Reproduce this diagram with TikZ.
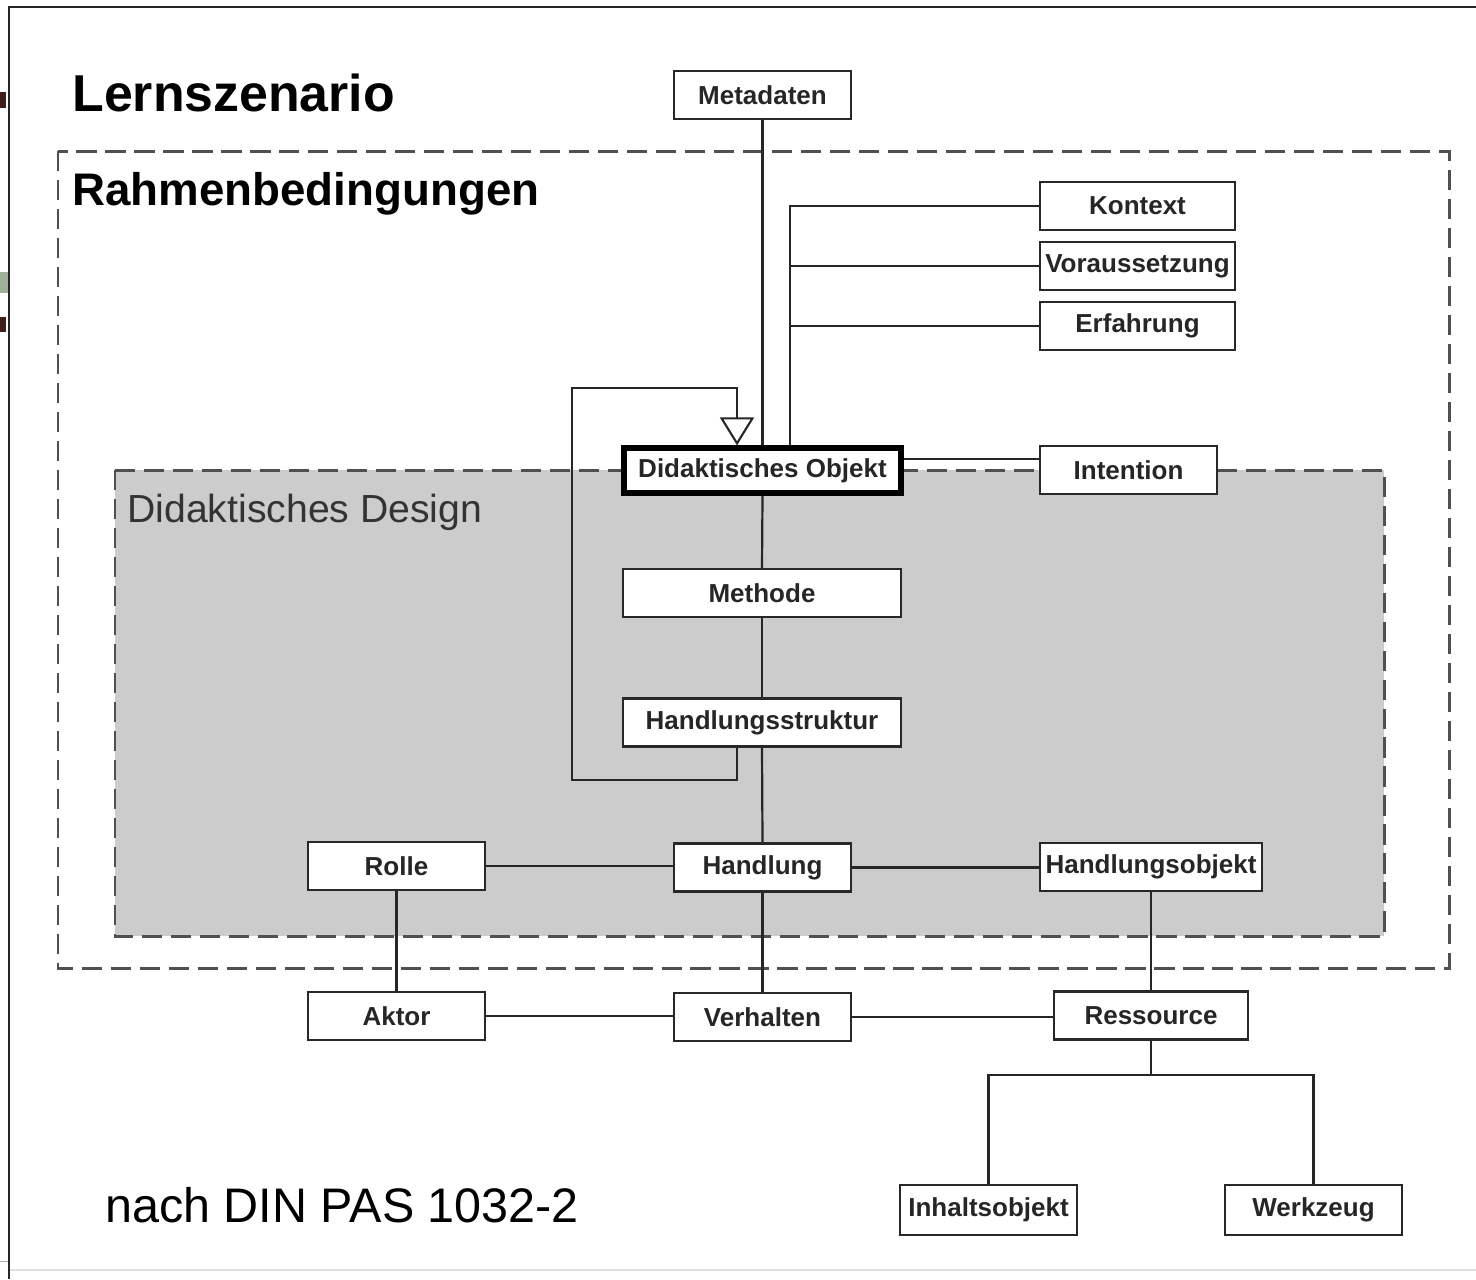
\documentclass[tikz,border=0pt]{standalone}
\usepackage{fontspec}
\setmainfont{Liberation Sans}
\usetikzlibrary{arrows.meta}
\definecolor{boxGray}{RGB}{40,40,40}
\definecolor{dashGray}{RGB}{80,80,80}
\definecolor{designGray}{RGB}{204,204,204}
\definecolor{markBrown}{RGB}{64,30,30}
\definecolor{markGreen}{RGB}{160,176,152}
\tikzset{
  entity/.style={draw=boxGray,line width=1.2pt,fill=white,text=black!85,
    font=\fontsize{14.8}{16}\selectfont\bfseries,
    minimum width=3.54cm,minimum height=0.96cm,inner sep=0pt},
  link/.style={draw=black!85,line width=1.25pt},
  area/.style={draw=dashGray,line width=1.7pt,dash pattern=on 11.5pt off 5pt},
  title/.style={anchor=base west,inner sep=0pt}
}

\begin{document}
\begin{tikzpicture}[x=0.02cm,y=-0.02cm]
      \useasboundingbox (0,0) rectangle (1476,1279);
      % page frame and marks
      \fill[markBrown] (0,92) rectangle (6,108);
      \fill[markGreen] (0,272) rectangle (9,293);
      \fill[markBrown] (0,317) rectangle (6,332);
      \draw[black!30,line width=0.6pt] (0,1261) -- (9,1261);
      \draw[black!12,line width=0.8pt] (10,1270) -- (1476,1270);
      \draw[black!85,line width=1.2pt] (9,1279) -- (9,7) -- (1476,7);

      % dashed areas
      \draw[area] (58,151) rectangle (1449,968);
      \draw[area,fill=designGray] (115,470) rectangle (1384,936);

      % titles
      \node[title,font=\fontsize{29.5}{31}\selectfont\bfseries] (lern) at (72,111) {Lernszenario};
      \node[title,font=\fontsize{26}{28}\selectfont\bfseries] (rahmen) at (72,205) {Rahmenbedingungen};
      \node[title,font=\fontsize{22.3}{24}\selectfont,text=black!80] (design) at (127,522) {Didaktisches Design};
      \node[title,font=\fontsize{27.6}{29}\selectfont] (quelle) at (105,1222) {nach DIN PAS 1032-2};

      % boxes
      \node[entity] (meta) at (762.5,95) {Metadaten};
      \node[entity,minimum width=3.9cm] (kontext) at (1137.5,206) {Kontext};
      \node[entity,minimum width=3.9cm] (vor) at (1137.5,266) {Voraussetzung};
      \node[entity,minimum width=3.9cm] (erf) at (1137.5,326) {Erfahrung};
      \node[entity,draw=black,line width=3pt,minimum width=5.54cm,minimum height=0.9cm] (do) at (762.5,470.5) {Didaktisches Objekt};
      \node[entity] (int) at (1128.5,470) {Intention};
      \node[entity,minimum width=5.56cm] (meth) at (762,593) {Methode};
      \node[entity,minimum width=5.56cm] (hs) at (762,722.5) {Handlungsstruktur};
      \node[entity] (rolle) at (396.5,866) {Rolle};
      \node[entity] (hand) at (762.5,867.5) {Handlung};
      \node[entity,minimum width=4.44cm] (hobj) at (1151,867) {Handlungsobjekt};
      \node[entity] (aktor) at (396.5,1016) {Aktor};
      \node[entity] (verh) at (762.5,1017) {Verhalten};
      \node[entity,minimum width=3.88cm] (res) at (1151,1015.5) {Ressource};
      \node[entity,minimum height=1cm] (inh) at (988.5,1210) {Inhaltsobjekt};
      \node[entity,minimum height=1cm] (wz) at (1313.5,1210) {Werkzeug};

      % helper coordinates
      \coordinate (kx) at (790,0);
      \coordinate (loopx) at (737,0);
      \coordinate (lbot) at (572,780);
      \coordinate (ltop) at (572,388);
      \coordinate (iy) at (0,459);
      \coordinate (rs) at (1151,1075);

      % connectors
      \draw[link] (meta.south) -- (do.north);
      \draw[link] (do.north -| kx) |- (kontext.west);
      \draw[link] (kx |- vor.west) -- (vor.west);
      \draw[link] (kx |- erf.west) -- (erf.west);
      \draw[link] (do.east |- iy) -- (int.west |- iy);
      \draw[link] (do.south) -- (meth.north);
      \draw[link] (meth.south) -- (hs.north);
      \draw[link] (hs.south) -- (hand.north);
      \draw[link,-{Triangle[open,length=0.56cm,width=0.68cm,line width=1.2pt]}]
        (hs.south -| loopx) |- (lbot) -- (ltop) -| (do.north -| loopx);
      \draw[link] (rolle.east) -- (rolle.east -| hand.west);
      \draw[link] (hand.east) -- (hand.east -| hobj.west);
      \draw[link] (rolle.south) -- (aktor.north);
      \draw[link] (hand.south) -- (verh.north);
      \draw[link] (hobj.south) -- (res.north);
      \draw[link] (aktor.east) -- (aktor.east -| verh.west);
      \draw[link] (verh.east) -- (verh.east -| res.west);
      \draw[link] (res.south) -- (rs);
      \draw[link] (inh.north) |- (rs) -| (wz.north);
\end{tikzpicture}
\end{document}
